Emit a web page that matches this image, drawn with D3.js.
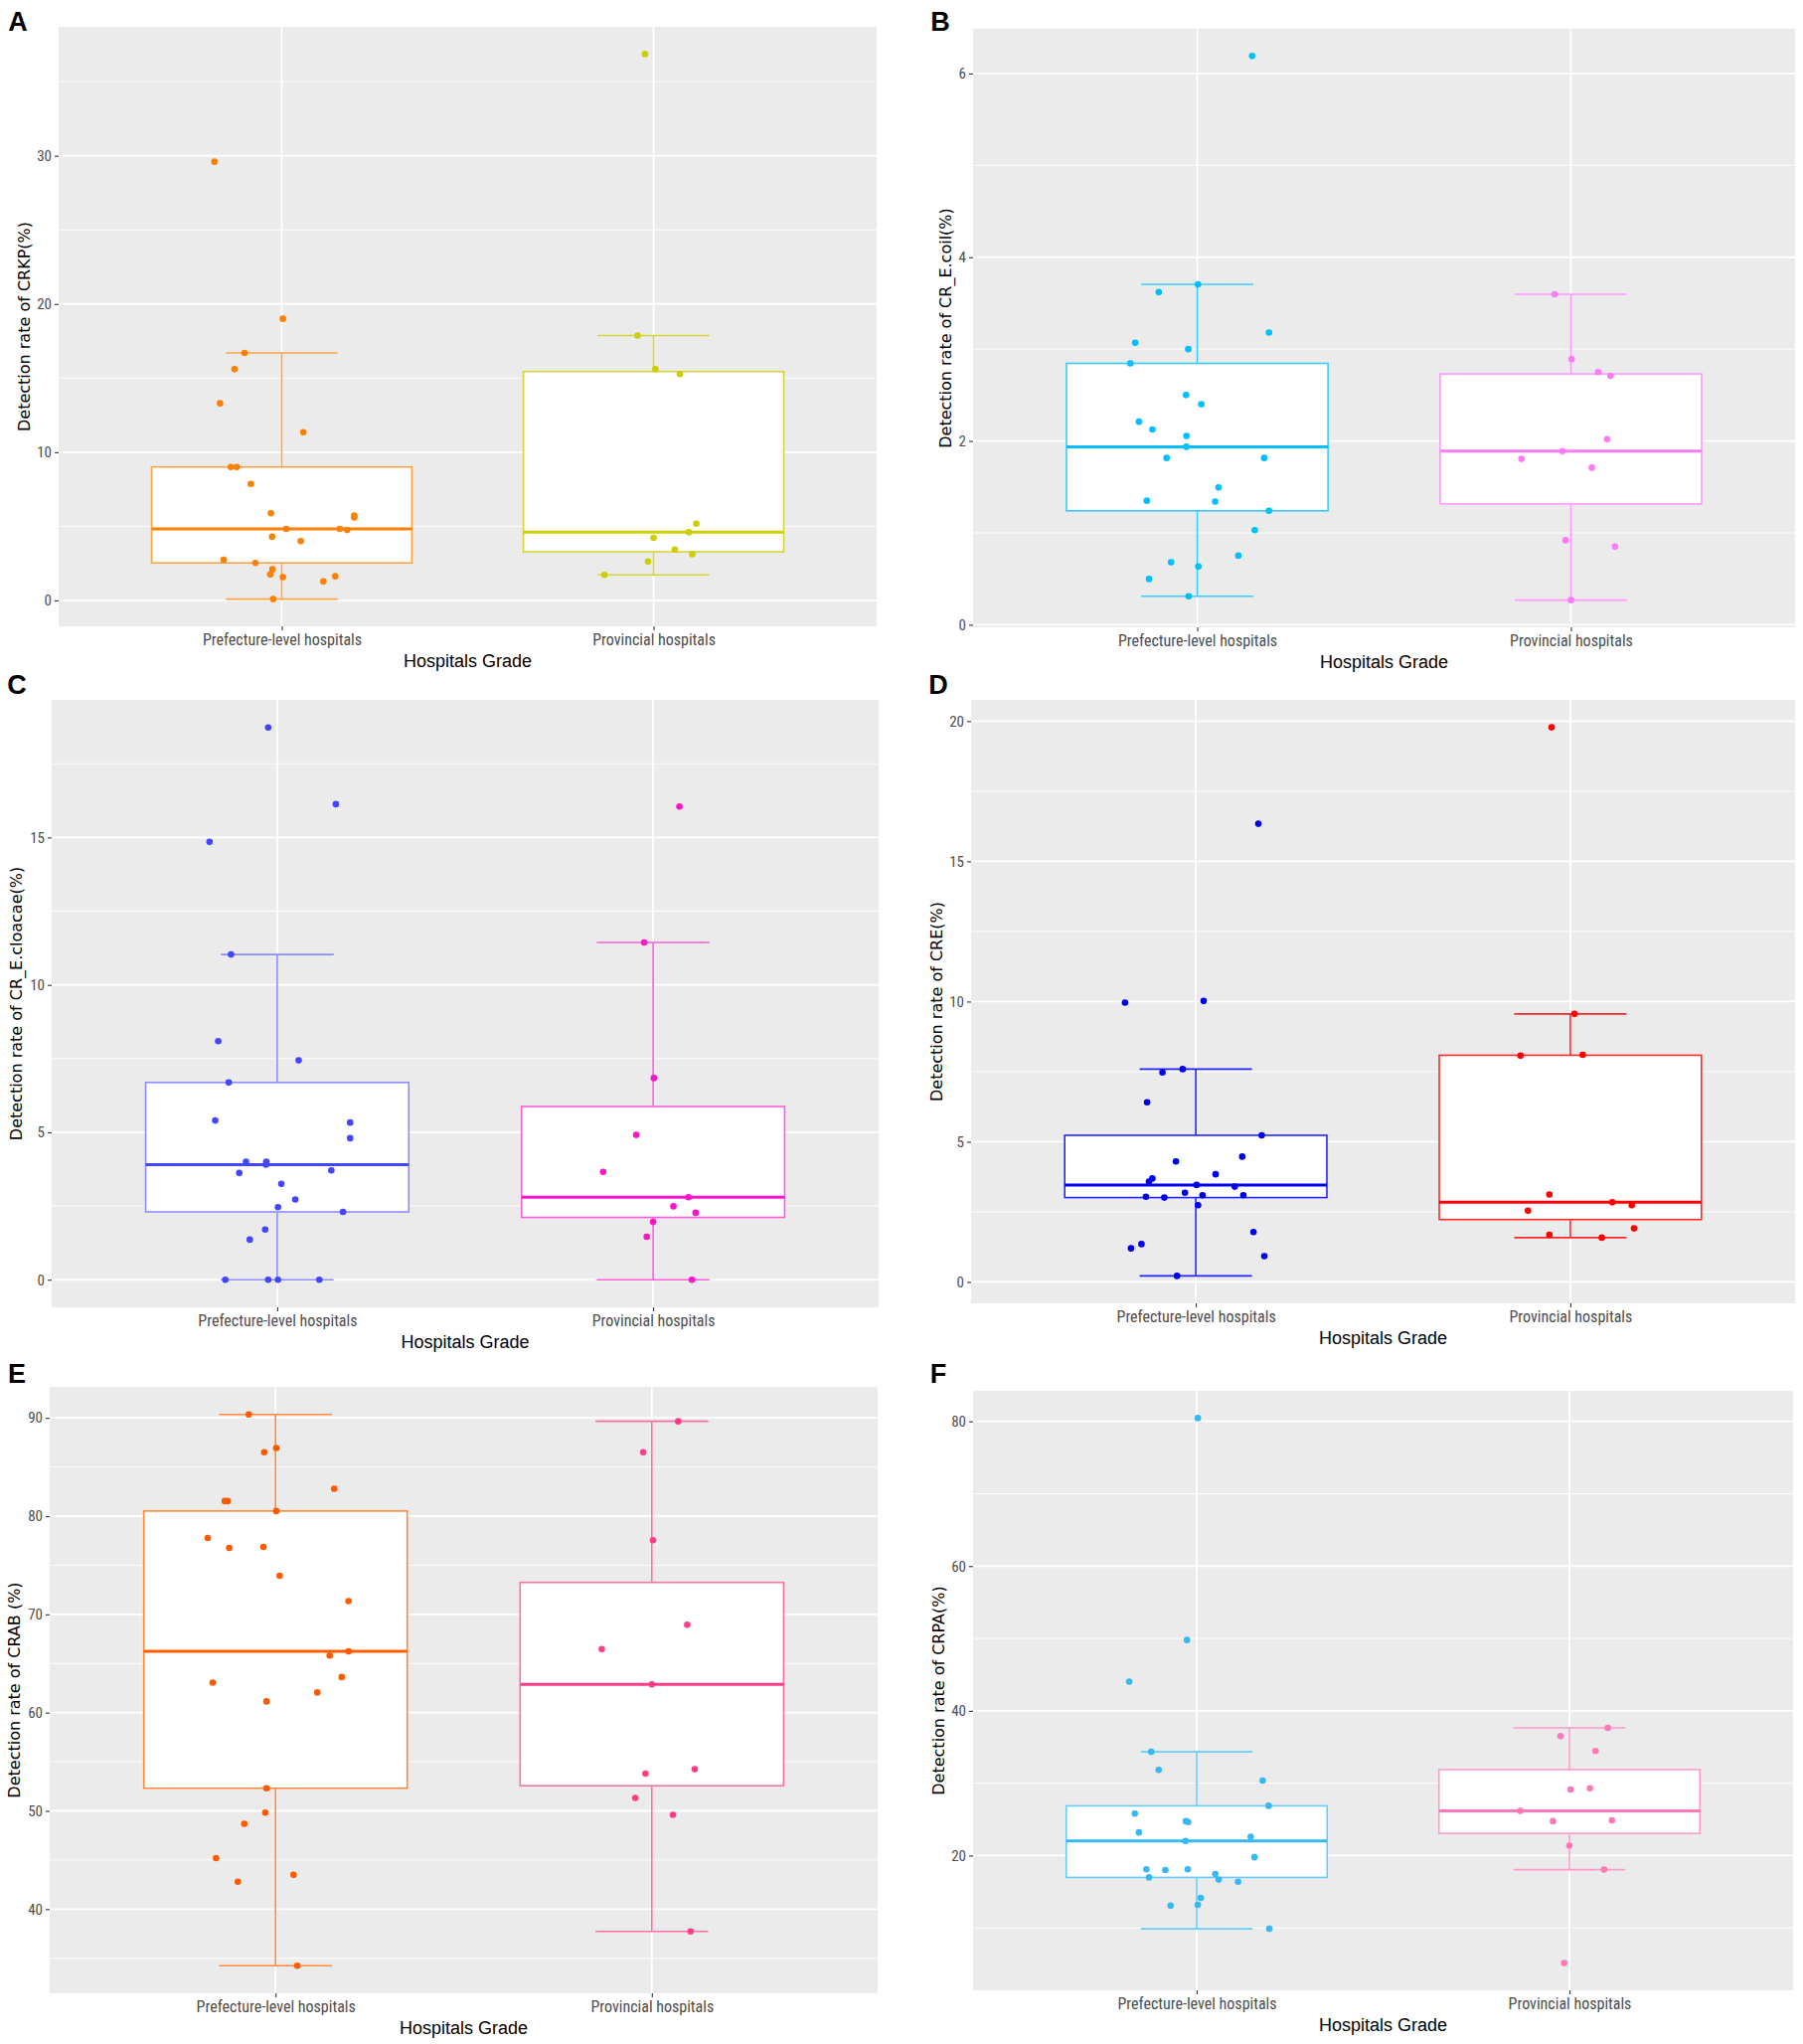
<!DOCTYPE html>
<html>
<head>
<meta charset="utf-8">
<script src="https://cdn.jsdelivr.net/npm/d3@7"></script>
<style>
  body { margin: 0; background: #ffffff; }
  svg { display: block; }
</style>
</head>
<body>
<svg id="chart"></svg>
<script>
// Data (values in %), jitter in category-step units
var categories = ["Prefecture-level hospitals", "Provincial hospitals"];

var crkpPrefecture = [29.6, 19.0, 16.7, 15.6, 13.3, 11.35, 9.0, 9.0, 7.86, 5.88, 5.73, 5.6, 4.83, 4.83, 4.75, 4.3, 4.0, 2.74, 2.53, 2.1, 1.75, 1.57, 1.63, 1.28, 0.09];
var crkpPrefectureJitter = [-0.181, 0.003, -0.100, -0.127, -0.166, 0.058, -0.137, -0.121, -0.083, -0.029, 0.195, 0.195, 0.012, 0.156, 0.176, -0.026, 0.051, -0.156, -0.071, -0.025, -0.031, 0.003, 0.144, 0.112, -0.023];
var crkpProvincial = [36.86, 17.87, 15.6, 15.28, 5.18, 4.6, 4.22, 3.43, 3.12, 2.62, 1.72];
var crkpProvincialJitter = [-0.023, -0.043, 0.005, 0.071, 0.115, 0.095, 0, 0.057, 0.104, -0.015, -0.132];
var crkpTicks = [0, 10, 20, 30];

var ecoliPrefecture = [6.19, 3.705, 3.62, 3.18, 3.07, 3.0, 2.845, 2.50, 2.40, 2.21, 2.125, 2.055, 1.937, 1.815, 1.815, 1.495, 1.35, 1.34, 1.24, 1.03, 0.752, 0.68, 0.635, 0.498, 0.31];
var ecoliPrefectureJitter = [0.147, 0.002, -0.103, 0.192, -0.166, -0.024, -0.179, -0.030, 0.011, -0.156, -0.120, -0.029, -0.029, -0.082, 0.179, 0.057, -0.135, 0.048, 0.192, 0.154, 0.110, -0.070, 0.003, -0.129, -0.023];
var ecoliProvincial = [3.597, 2.89, 2.75, 2.71, 2.02, 1.89, 1.805, 1.71, 0.92, 0.85, 0.268];
var ecoliProvincialJitter = [-0.044, 0.002, 0.073, 0.106, 0.097, -0.023, -0.132, 0.056, -0.014, 0.118, 0];
var ecoliTicks = [0, 2, 4, 6];

var cloacaePrefecture = [18.73, 16.13, 14.85, 11.03, 8.09, 7.44, 6.69, 5.40, 5.33, 4.80, 4.0, 4.0, 3.90, 3.62, 3.71, 3.25, 2.72, 2.46, 2.30, 1.70, 1.36, 0, 0, 0, 0];
var cloacaePrefectureJitter = [-0.024, 0.156, -0.180, -0.123, -0.157, 0.057, -0.129, -0.165, 0.194, 0.194, -0.083, -0.029, -0.030, -0.101, 0.144, 0.011, 0.048, 0.002, 0.175, -0.032, -0.073, -0.138, -0.024, 0.002, 0.112];
var cloacaeProvincial = [16.05, 11.44, 6.84, 4.91, 3.66, 2.80, 2.49, 2.27, 1.96, 1.46, 0];
var cloacaeProvincialJitter = [0.070, -0.024, 0.002, -0.045, -0.133, 0.094, 0.054, 0.113, 0, -0.017, 0.103];
var cloacaeTicks = [0, 5, 10, 15];

var crePrefecture = [16.34, 10.02, 9.96, 7.59, 7.47, 6.41, 5.23, 4.47, 4.30, 3.84, 3.69, 3.58, 3.46, 3.40, 3.18, 3.09, 3.09, 3.04, 3.01, 2.74, 1.78, 1.35, 1.20, 0.92, 0.215];
var crePrefectureJitter = [0.167, 0.021, -0.189, -0.035, -0.089, -0.130, 0.176, 0.124, -0.053, 0.053, -0.116, -0.125, 0.002, 0.104, -0.029, 0.018, 0.127, -0.133, -0.084, 0.006, 0.154, -0.145, -0.173, 0.183, -0.050];
var creProvincial = [19.78, 9.56, 8.07, 8.10, 3.12, 2.84, 2.74, 2.54, 1.91, 1.68, 1.58];
var creProvincialJitter = [-0.050, 0.011, -0.133, 0.033, -0.056, 0.112, 0.164, -0.113, 0.170, -0.056, 0.084];
var creTicks = [0, 5, 10, 15, 20];

var crabPrefecture = [90.35, 86.94, 86.51, 82.79, 81.53, 81.53, 80.52, 77.77, 76.77, 76.86, 73.93, 71.35, 66.24, 65.81, 63.62, 63.06, 62.05, 61.14, 52.31, 49.83, 48.69, 45.2, 43.49, 42.79, 34.24];
var crabPrefectureJitter = [-0.071, 0.002, -0.030, 0.156, -0.135, -0.127, 0.002, -0.180, -0.123, -0.032, 0.011, 0.194, 0.194, 0.144, 0.176, -0.167, 0.111, -0.024, -0.024, -0.027, -0.083, -0.158, 0.048, -0.100, 0.058];
var crabProvincial = [89.65, 86.51, 77.55, 68.95, 66.46, 62.88, 54.24, 53.8, 51.31, 49.6, 37.73];
var crabProvincialJitter = [0.070, -0.023, 0.003, 0.094, -0.133, 0, 0.114, -0.017, -0.044, 0.056, 0.103];
var crabTicks = [40, 50, 60, 70, 80, 90];

var crpaPrefecture = [80.45, 49.78, 44.04, 34.33, 31.84, 30.36, 26.87, 25.80, 24.74, 24.62, 23.20, 22.61, 22.01, 19.76, 18.11, 18.11, 17.99, 17.45, 16.98, 16.68, 16.39, 14.14, 13.19, 13.07, 9.88];
var crpaPrefectureJitter = [0.003, -0.026, -0.181, -0.122, -0.102, 0.177, 0.193, -0.166, -0.029, -0.023, -0.155, 0.145, -0.030, 0.155, -0.135, -0.024, -0.084, 0.050, -0.128, 0.059, 0.111, 0.011, 0.003, -0.070, 0.195];
var crpaProvincial = [37.64, 36.52, 34.45, 29.30, 29.12, 26.16, 24.74, 24.86, 21.36, 18.05, 5.14];
var crpaProvincialJitter = [0.103, -0.024, 0.070, 0.055, 0.003, -0.132, -0.044, 0.114, 0, 0.093, -0.014];
var crpaTicks = [20, 40, 60, 80];

var panelLabels = ["A", "B", "C", "D", "E", "F"];
var yTitles = [
    "Detection rate of CRKP(%)",
    "Detection rate of CR_E.coil(%)",
    "Detection rate of CR_E.cloacae(%)",
    "Detection rate of CRE(%)",
    "Detection rate of CRAB (%)",
    "Detection rate of CRPA(%)"
];
var xTitle = "Hospitals Grade";

// Layout of each panel in page pixels
var layout = [
    {x0: 59,  y0: 27,   x1: 882,  y1: 630,  lx: 18,  ly: 22,   tx: 24},
    {x0: 979, y0: 29,   x1: 1806, y1: 631,  lx: 946, ly: 22,   tx: 951},
    {x0: 52,  y0: 704,  x1: 884,  y1: 1315, lx: 17,  ly: 689,  tx: 16},
    {x0: 977, y0: 704,  x1: 1806, y1: 1311, lx: 944, ly: 689,  tx: 942},
    {x0: 50,  y0: 1395, x1: 883,  y1: 2005, lx: 17,  ly: 1382, tx: 14},
    {x0: 979, y0: 1399, x1: 1804, y1: 2002, lx: 944, ly: 1382, tx: 944}
];

var palette = [
    [{point: "#FF7F00", box: "#FFA445"}, {point: "#CDCD00", box: "#D5D535"}],
    [{point: "#00BFFF", box: "#38CBFF"}, {point: "#FF7AF5", box: "#FF99FF"}],
    [{point: "#4545FF", box: "#8C8CFF"}, {point: "#FF14C8", box: "#FF5CD8"}],
    [{point: "#0000EE", box: "#2424FF"}, {point: "#FF0000", box: "#FF2A2A"}],
    [{point: "#FF5A00", box: "#FF8A3C"}, {point: "#FF3D8B", box: "#FF70A8"}],
    [{point: "#38B8F2", box: "#66CCFF"}, {point: "#FF78B8", box: "#FF9ACC"}]
];

var panels = [
    {groups: [[crkpPrefecture, crkpPrefectureJitter], [crkpProvincial, crkpProvincialJitter]], ticks: crkpTicks},
    {groups: [[ecoliPrefecture, ecoliPrefectureJitter], [ecoliProvincial, ecoliProvincialJitter]], ticks: ecoliTicks},
    {groups: [[cloacaePrefecture, cloacaePrefectureJitter], [cloacaeProvincial, cloacaeProvincialJitter]], ticks: cloacaeTicks},
    {groups: [[crePrefecture, crePrefectureJitter], [creProvincial, creProvincialJitter]], ticks: creTicks},
    {groups: [[crabPrefecture, crabPrefectureJitter], [crabProvincial, crabProvincialJitter]], ticks: crabTicks},
    {groups: [[crpaPrefecture, crpaPrefectureJitter], [crpaProvincial, crpaProvincialJitter]], ticks: crpaTicks}
];

var svg = d3.select("#chart").attr("width", 1814).attr("height", 2056);

panels.forEach(function(panel, i){
    drawPanel(svg, panel, layout[i], palette[i], panelLabels[i], yTitles[i]);
});

function drawPanel(svg, panel, box, colors, label, yTitle){
    var g = svg.append("g");
    var allValues = d3.merge(panel.groups.map(function(d){ return d[0]; }));
    var extent = d3.extent(allValues);
    var pad = (extent[1] - extent[0]) * 0.05;

    var xScale = d3.scalePoint()
        .domain(categories)
        .range([box.x0, box.x1])
        .padding(0.6);
    var yScale = d3.scaleLinear()
        .domain([extent[0] - pad, extent[1] + pad])
        .range([box.y1, box.y0]);
    var step = xScale.step();

    // grey panel
    g.append("rect")
        .attr("x", box.x0).attr("y", box.y0)
        .attr("width", box.x1 - box.x0).attr("height", box.y1 - box.y0)
        .attr("fill", "#EBEBEB");

    attachGrid(g, panel.ticks, xScale, yScale, box);
    attachAxes(g, panel.ticks, xScale, yScale, box);

    panel.groups.forEach(function(group, k){
        attachBox(g, group[0], categories[k], xScale, yScale, step, colors[k]);
    });
    panel.groups.forEach(function(group, k){
        attachPoints(g, group[0], group[1], categories[k], xScale, yScale, step, colors[k].point);
    });

    // titles
    g.append("text")
        .attr("x", (box.x0 + box.x1) / 2)
        .attr("y", box.y1 + 35)
        .attr("text-anchor", "middle")
        .attr("dominant-baseline", "central")
        .style("font-family", "'Liberation Sans', Arial, sans-serif")
        .style("font-size", "18px")
        .attr("fill", "#000")
        .text(xTitle);

    var cy = (box.y0 + box.y1) / 2;
    g.append("text")
        .attr("transform", `translate(${box.tx}, ${cy}) rotate(-90)`)
        .attr("text-anchor", "middle")
        .attr("dominant-baseline", "central")
        .style("font-family", "'DejaVu Sans', Verdana, sans-serif")
        .style("font-size", "16px")
        .attr("fill", "#000")
        .text(yTitle);

    g.append("text")
        .attr("x", box.lx).attr("y", box.ly)
        .attr("text-anchor", "middle")
        .attr("dominant-baseline", "central")
        .style("font-family", "'Liberation Sans', Arial, sans-serif")
        .style("font-size", "27px")
        .style("font-weight", "bold")
        .attr("fill", "#000")
        .text(label);
}

function attachGrid(g, ticks, xScale, yScale, box){
    var dom = yScale.domain();
    var stepTick = ticks[1] - ticks[0];
    var minor = [];
    for (var t = ticks[0] - stepTick / 2; t <= ticks[ticks.length - 1] + stepTick / 2 + 1e-9; t += stepTick){
        if (t >= dom[0] && t <= dom[1]) minor.push(t);
    }
    g.selectAll(".minor").data(minor).enter().append("line")
        .attr("x1", box.x0).attr("x2", box.x1)
        .attr("y1", function(d){ return yScale(d); })
        .attr("y2", function(d){ return yScale(d); })
        .attr("stroke", "#ffffff").attr("stroke-width", 0.9);
    g.selectAll(".major").data(ticks).enter().append("line")
        .attr("x1", box.x0).attr("x2", box.x1)
        .attr("y1", function(d){ return yScale(d); })
        .attr("y2", function(d){ return yScale(d); })
        .attr("stroke", "#ffffff").attr("stroke-width", 1.8);
    g.selectAll(".vmajor").data(categories).enter().append("line")
        .attr("x1", function(d){ return xScale(d); })
        .attr("x2", function(d){ return xScale(d); })
        .attr("y1", box.y0).attr("y2", box.y1)
        .attr("stroke", "#ffffff").attr("stroke-width", 1.8);
}

function attachAxes(g, ticks, xScale, yScale, box){
    var yAxis = g.append("g")
        .attr("transform", `translate(${box.x0}, 0)`)
        .call(d3.axisLeft(yScale).tickValues(ticks).tickSize(4).tickPadding(3).tickFormat(d3.format("d")));
    var xAxis = g.append("g")
        .attr("transform", `translate(0, ${box.y1})`)
        .call(d3.axisBottom(xScale).tickSize(4).tickPadding(4));
    [yAxis, xAxis].forEach(function(axis){
        axis.select(".domain").remove();
        axis.selectAll(".tick line").attr("stroke", "#333333").attr("stroke-width", 1.1);
        axis.selectAll(".tick text")
            .attr("fill", "#4D4D4D")
            .style("font-family", "'Liberation Sans Narrow', 'Arial Narrow', 'Roboto Condensed', sans-serif")
            .style("font-stretch", "condensed");
    });
    yAxis.selectAll(".tick text").style("font-size", "15px");
    xAxis.selectAll(".tick text").style("font-size", "16px");
}

function attachBox(g, values, category, xScale, yScale, step, color){
    var sorted = values.slice().sort(d3.ascending);
    var q1 = d3.quantile(sorted, 0.25);
    var median = d3.quantile(sorted, 0.5);
    var q3 = d3.quantile(sorted, 0.75);
    var iqr = q3 - q1;
    var low = d3.min(sorted.filter(function(v){ return v >= q1 - 1.5 * iqr; }));
    var high = d3.max(sorted.filter(function(v){ return v <= q3 + 1.5 * iqr; }));
    var cx = xScale(category);
    var halfBox = 0.35 * step;
    var halfCap = 0.15 * step;

    g.append("line")
        .attr("x1", cx).attr("x2", cx)
        .attr("y1", yScale(low)).attr("y2", yScale(high))
        .attr("stroke", color.box).attr("stroke-width", 1.6);
    [low, high].forEach(function(v){
        g.append("line")
            .attr("x1", cx - halfCap).attr("x2", cx + halfCap)
            .attr("y1", yScale(v)).attr("y2", yScale(v))
            .attr("stroke", color.box).attr("stroke-width", 1.6);
    });
    g.append("rect")
        .attr("x", cx - halfBox).attr("y", yScale(q3))
        .attr("width", 2 * halfBox).attr("height", yScale(q1) - yScale(q3))
        .attr("fill", "#ffffff")
        .attr("stroke", color.box).attr("stroke-width", 1.6);
    g.append("line")
        .attr("x1", cx - halfBox).attr("x2", cx + halfBox)
        .attr("y1", yScale(median)).attr("y2", yScale(median))
        .attr("stroke", color.point).attr("stroke-width", 3);
}

function attachPoints(g, values, jitter, category, xScale, yScale, step, color){
    var cx = xScale(category);
    g.selectAll(null)
        .data(values)
        .enter()
        .append("circle")
        .attr("cx", function(d, i){ return cx + jitter[i] * step; })
        .attr("cy", function(d){ return yScale(d); })
        .attr("r", 3.3)
        .attr("fill", color);
}
</script>
</body>
</html>
